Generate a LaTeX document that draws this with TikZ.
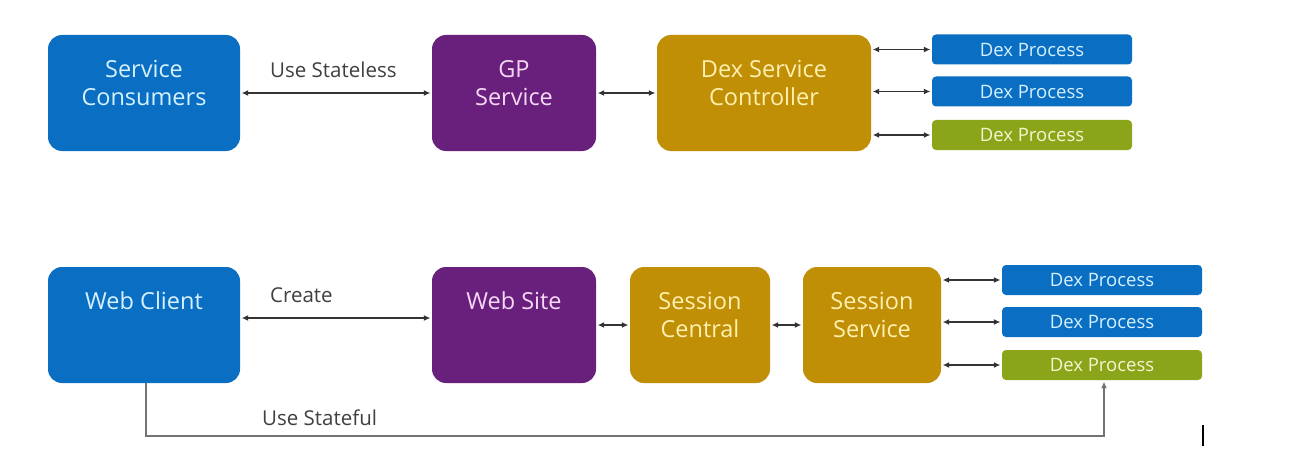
\documentclass[tikz,border=0pt]{standalone}
\usepackage{fontspec}
\setmainfont{Open Sans}
\usetikzlibrary{arrows.meta,calc}
\definecolor{cblue}{HTML}{0A6FC2}
\definecolor{cpurple}{HTML}{68207C}
\definecolor{cgold}{HTML}{C08F06}
\definecolor{cgreen}{HTML}{8BA51A}
\definecolor{tblue}{HTML}{D5F0FF}
\definecolor{tpurple}{HTML}{F5D8F5}
\definecolor{tgold}{HTML}{FFF0B0}
\definecolor{tgreen}{HTML}{F5F5D0}
\definecolor{lcol}{HTML}{404040}
\tikzset{
  bigbox/.style={rounded corners=14pt, inner sep=0pt, minimum height=116pt},
  dexbox/.style={rounded corners=4pt, inner sep=0pt, minimum width=200pt, minimum height=30pt,
    font=\fontsize{18.5}{20}\selectfont},
  boxtext/.style={align=center, inner sep=0pt, font=\fontsize{23.5}{28}\selectfont},
  lbl/.style={anchor=west, inner sep=0pt, text=lcol, font=\fontsize{20.5}{24}\selectfont},
  arr/.style={{Latex[length=6.5pt,width=6pt]}-{Latex[length=6.5pt,width=6pt]}, line width=1.2pt, draw=black!80,
    shorten <=1.5pt, shorten >=1.5pt},
  arrone/.style={-{Latex[length=6.5pt,width=6pt]}, line width=1.2pt, draw=black!55, shorten >=1.5pt}
}
\begin{document}
\begin{tikzpicture}[x=1pt,y=-1pt]
\useasboundingbox[fill=white] (0,0) rectangle (1292,476);

% top row
\node[bigbox, fill=cblue, minimum width=192pt] (sc) at (144,93) {};
\node[boxtext, text=tblue] (sct) at (144,83) {Service\\Consumers};
\node[bigbox, fill=cpurple, minimum width=164pt] (gp) at (514,93) {};
\node[boxtext, text=tpurple] (gpt) at (514,83) {GP\\Service};
\node[bigbox, fill=cgold, minimum width=214pt] (dsc) at (764,93) {};
\node[boxtext, text=tgold] (dsct) at (764,83) {Dex Service\\Controller};
\node[dexbox, fill=cblue, text=tblue] (d1) at (1032,49.5) {Dex Process};
\node[dexbox, fill=cblue, text=tblue] (d2) at (1032,91.5) {Dex Process};
\node[dexbox, fill=cgreen, text=tgreen] (d3) at (1032,135) {Dex Process};

\draw[arr] (sc.east) -- (gp.west);
\node[lbl] (l1) at (270,70) {Use Stateless};
\draw[arr] (gp.east) -- (dsc.west);
\draw[arr] (dsc.east |- d1.west) -- (d1.west);
\draw[arr] (dsc.east |- d2.west) -- (d2.west);
\draw[arr] (dsc.east |- d3.west) -- (d3.west);

% bottom row
\node[bigbox, fill=cblue, minimum width=192pt] (wc) at (144,325) {};
\node[boxtext, text=tblue] (wct) at (144,301) {Web Client};
\node[bigbox, fill=cpurple, minimum width=164pt] (ws) at (514,325) {};
\node[boxtext, text=tpurple] (wst) at (514,301) {Web Site};
\node[bigbox, fill=cgold, minimum width=140pt] (scen) at (700,325) {};
\node[boxtext, text=tgold] (scent) at (700,315) {Session\\Central};
\node[bigbox, fill=cgold, minimum width=138pt] (ssv) at (872,325) {};
\node[boxtext, text=tgold] (ssvt) at (872,315) {Session\\Service};
\node[dexbox, fill=cblue, text=tblue] (d4) at (1102,280) {Dex Process};
\node[dexbox, fill=cblue, text=tblue] (d5) at (1102,322) {Dex Process};
\node[dexbox, fill=cgreen, text=tgreen] (d6) at (1102,365) {Dex Process};

\draw[arr] ($(wc.east)+(0,-7)$) -- ($(ws.west)+(0,-7)$);
\node[lbl] (l2) at (270,295) {Create};
\draw[arr] (ws.east) -- (scen.west);
\draw[arr] (scen.east) -- (ssv.west);
\draw[arr] (ssv.east |- d4.west) -- (d4.west);
\draw[arr] (ssv.east |- d5.west) -- (d5.west);
\draw[arr] (ssv.east |- d6.west) -- (d6.west);

\coordinate (c1) at (146,436);
\coordinate (c2) at (1104,436);
\draw[arrone] (wc.south -| c1) -- (c1) -- (c2) -- (d6.south -| c2);
\node[lbl] (l3) at (262,418) {Use Stateful};

% cursor mark
\draw[line width=1.5pt] (1203,425) -- (1203,446);
\end{tikzpicture}
\end{document}
